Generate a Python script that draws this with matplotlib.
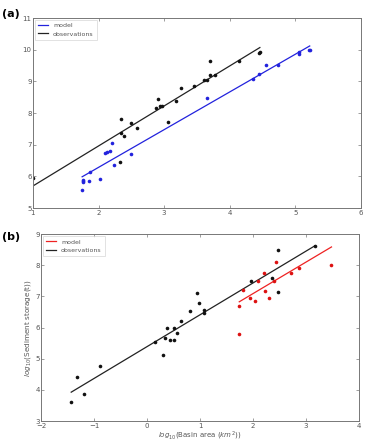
import matplotlib
matplotlib.use("Agg")
import matplotlib.pyplot as plt

# ---- Panel (a) data ----
a_obs_x = [1.00, 2.32, 2.35, 2.34, 2.39, 2.50, 2.58, 2.87, 2.90, 2.93, 2.97, 3.06, 3.18,
           3.26, 3.46, 3.61, 3.65, 3.70, 3.70, 3.78, 4.14, 4.44, 4.46]
a_obs_y = [5.94, 6.47, 7.83, 7.36, 7.27, 7.68, 7.53, 8.17, 8.45, 8.24, 8.24, 7.72, 8.37,
           8.79, 8.85, 9.05, 9.03, 9.66, 9.21, 9.20, 9.63, 9.90, 9.94]
a_mod_x = [1.75, 1.76, 1.76, 1.76, 1.85, 1.87, 2.03, 2.10, 2.13, 2.17, 2.21, 2.24, 2.50,
           3.66, 4.35, 4.44, 4.55, 4.74, 5.06, 5.06, 5.21, 5.23]
a_mod_y = [5.58, 5.82, 5.88, 5.85, 5.86, 6.13, 5.92, 6.74, 6.78, 6.79, 7.06, 6.36, 6.71,
           8.49, 9.08, 9.22, 9.52, 9.53, 9.87, 9.92, 9.98, 9.98]
a_obs_line_x = [1.00, 4.46]
a_obs_line_y = [5.70, 10.07]
a_mod_line_x = [1.75, 5.22]
a_mod_line_y = [5.99, 10.12]

# ---- Panel (b) data ----
b_obs_x = [-1.43, -1.33, -1.19, -0.88, 0.15, 0.30, 0.33, 0.37, 0.43, 0.51, 0.51, 0.56,
           0.65, 0.82, 0.94, 0.99, 1.08, 1.08, 1.97, 2.35, 2.48, 2.48, 3.17]
b_obs_y = [3.60, 4.42, 3.88, 4.76, 5.53, 5.12, 5.66, 5.98, 5.61, 5.61, 5.99, 5.84,
           6.22, 6.54, 7.12, 6.80, 6.56, 6.48, 7.50, 7.60, 7.13, 8.48, 8.61]
b_mod_x = [1.74, 1.74, 1.82, 1.94, 2.03, 2.09, 2.20, 2.23, 2.31, 2.39, 2.43, 2.71, 2.86, 3.48]
b_mod_y = [6.71, 5.80, 7.22, 6.95, 6.84, 7.49, 7.74, 7.18, 6.96, 7.51, 8.12, 7.77, 7.93, 8.02]
b_obs_line_x = [-1.43, 3.17]
b_obs_line_y = [3.93, 8.63]
b_mod_line_x = [1.74, 3.48]
b_mod_line_y = [6.83, 8.59]

fig = plt.figure(figsize=(3.66, 4.41), dpi=100)
axa = fig.add_axes([0.090, 0.528, 0.896, 0.431])
axb = fig.add_axes([0.112, 0.045, 0.869, 0.424])

edge = "#777777"
tickc = "#555555"

def style(ax):
    for s in ax.spines.values():
        s.set_color(edge)
        s.set_linewidth(0.7)
    ax.tick_params(direction="in", length=2.5, width=0.5, colors=edge,
                   labelcolor=tickc, labelsize=5, top=True, right=True, pad=1.0)

def add_legend(ax):
    leg = ax.legend(loc="upper left", fontsize=4.5, frameon=True, fancybox=False,
                    handlelength=1.6, borderpad=0.5, labelspacing=0.45,
                    borderaxespad=0.3)
    leg.get_frame().set_edgecolor("#cccccc")
    leg.get_frame().set_linewidth(0.5)
    for t in leg.get_texts():
        t.set_color("#555555")

ms = 2.6
# panel a
axa.plot(a_mod_line_x, a_mod_line_y, color="#2222dd", lw=0.9, label="model")
axa.plot(a_obs_line_x, a_obs_line_y, color="#222222", lw=0.9, label="observations")
axa.plot(a_mod_x, a_mod_y, "o", color="#2222dd", ms=ms, mec="none")
axa.plot(a_obs_x, a_obs_y, "o", color="#111111", ms=ms, mec="none")
axa.set_xlim(1, 6)
axa.set_ylim(5, 11)
axa.set_xticks([1, 2, 3, 4, 5, 6])
axa.set_yticks([5, 6, 7, 8, 9, 10, 11])
style(axa)
add_legend(axa)

# panel b
axb.plot(b_mod_line_x, b_mod_line_y, color="#ee2222", lw=0.9, label="model")
axb.plot(b_obs_line_x, b_obs_line_y, color="#222222", lw=0.9, label="observations")
axb.plot(b_mod_x, b_mod_y, "o", color="#dd1111", ms=ms, mec="none")
axb.plot(b_obs_x, b_obs_y, "o", color="#111111", ms=ms, mec="none")
axb.set_xlim(-2, 4)
axb.set_ylim(3, 9)
axb.set_xticks([-2, -1, 0, 1, 2, 3, 4])
axb.set_yticks([3, 4, 5, 6, 7, 8, 9])
style(axb)
add_legend(axb)
axb.set_xlabel(r"$log_{10}$(Basin area ($km^2$))", fontsize=5.0, color=tickc)
axb.set_ylabel(r"$log_{10}$(Sediment storage(t))", fontsize=5.2, color=tickc)
axb.xaxis.set_label_coords(0.5, -0.045)
axb.yaxis.set_label_coords(-0.024, 0.5)

fig.text(0.005, 0.968, "(a)", fontsize=8, fontweight="bold", ha="left", va="center")
fig.text(0.005, 0.462, "(b)", fontsize=8, fontweight="bold", ha="left", va="center")

fig.savefig("out.png", dpi=100)
